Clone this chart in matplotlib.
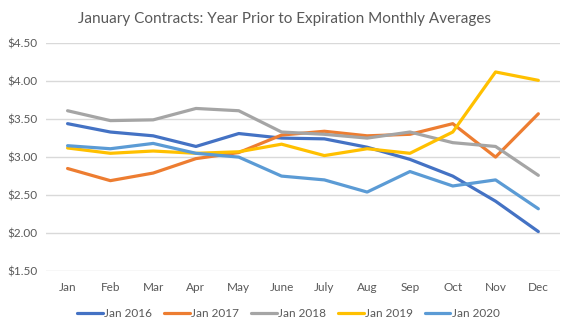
import matplotlib.pyplot as plt

plt.rcParams['font.family'] = ['Lato', 'DejaVu Sans']

months = ['Jan', 'Feb', 'Mar', 'Apr', 'May', 'June', 'July', 'Aug', 'Sep', 'Oct', 'Nov', 'Dec']
jan_2016 = [3.44, 3.33, 3.28, 3.14, 3.31, 3.25, 3.24, 3.13, 2.97, 2.75, 2.42, 2.02]
jan_2017 = [2.85, 2.69, 2.79, 2.98, 3.06, 3.29, 3.34, 3.28, 3.30, 3.44, 3.00, 3.57]
jan_2018 = [3.61, 3.48, 3.49, 3.64, 3.61, 3.33, 3.30, 3.25, 3.33, 3.19, 3.14, 2.76]
jan_2019 = [3.12, 3.05, 3.08, 3.05, 3.07, 3.17, 3.02, 3.11, 3.05, 3.33, 4.12, 4.01]
jan_2020 = [3.15, 3.11, 3.18, 3.05, 3.00, 2.75, 2.70, 2.54, 2.81, 2.62, 2.70, 2.32]

series = [
    ('Jan 2016', jan_2016, '#4472C4'),
    ('Jan 2017', jan_2017, '#ED7D31'),
    ('Jan 2018', jan_2018, '#A5A5A5'),
    ('Jan 2019', jan_2019, '#FFC000'),
    ('Jan 2020', jan_2020, '#5B9BD5'),
]

txt = '#595959'
fig = plt.figure(figsize=(5.7, 3.29), dpi=100)
ax = fig.add_axes([0.081, 0.176, 0.901, 0.693])

x = range(len(months))
for name, vals, col in series:
    ax.plot(x, vals, color=col, lw=2.3, label=name, solid_capstyle='round', solid_joinstyle='round')

ax.set_xlim(-0.5, 11.5)
ax.set_ylim(1.5, 4.5)
ax.set_yticks([1.5, 2.0, 2.5, 3.0, 3.5, 4.0, 4.5])
ax.set_yticklabels(['$%.2f' % v for v in ax.get_yticks()])
ax.set_xticks(list(x))
ax.set_xticklabels(months)
ax.tick_params(colors=txt, labelsize=8.5, length=0, pad=8)
ax.tick_params(axis='y', pad=6)
ax.grid(axis='y', color='#D9D9D9', lw=1)
ax.set_axisbelow(True)
for s in ax.spines.values():
    s.set_visible(False)

fig.suptitle('January Contracts: Year Prior to Expiration Monthly Averages',
             x=0.5, y=0.965, fontsize=11, color=txt)

fig.legend(loc='lower center', bbox_to_anchor=(0.506, -0.003), ncol=5, frameon=False,
           fontsize=8.5, labelcolor=txt, handlelength=2.2, handletextpad=0.15,
           columnspacing=0.95)

fig.savefig('out.png', dpi=100)
